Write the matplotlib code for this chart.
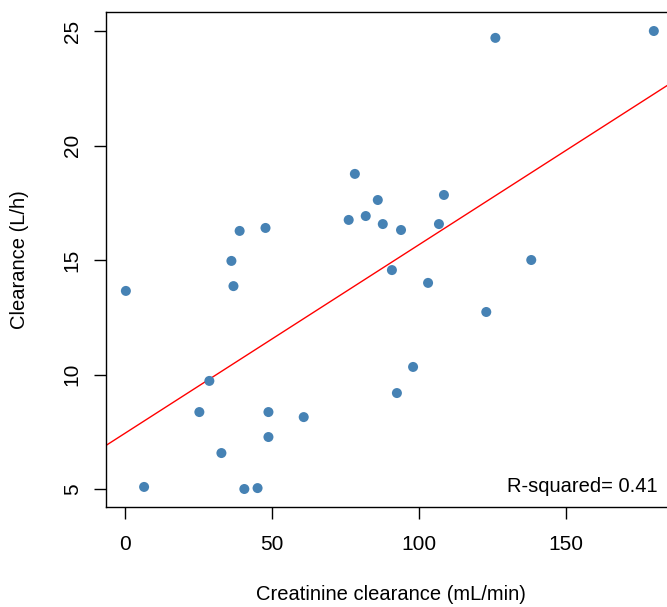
import numpy as np
import matplotlib
matplotlib.use("Agg")
import matplotlib.pyplot as plt

plt.rcParams['font.family'] = ['Liberation Sans', 'DejaVu Sans']

# creatinine clearance (mL/min) vs drug clearance (L/h)
crcl = [0.3, 6.5, 25.3, 28.7, 32.8, 36.2, 36.9, 39.0, 40.6, 45.1,
        47.8, 48.8, 48.8, 60.8, 76.1, 78.2, 81.9, 86.0, 87.7, 90.8,
        92.5, 93.9, 98.0, 103.1, 106.8, 108.5, 122.9, 126.0, 138.2, 179.9]
cl = [13.65, 5.09, 8.36, 9.72, 6.57, 14.96, 13.86, 16.27, 5.0, 5.04,
      16.4, 8.36, 7.27, 8.14, 16.75, 18.76, 16.92, 17.62, 16.57, 14.56,
      9.19, 16.31, 10.33, 14.0, 16.57, 17.84, 12.73, 24.7, 15.0, 25.0]
x_ticks = [0, 50, 100, 150]
y_ticks = [5, 10, 15, 20, 25]
r2_label = "R-squared= 0.41"

x = np.array(crcl)
y = np.array(cl)
slope, icpt = np.polyfit(x, y, 1)

fig = plt.figure(figsize=(6.67, 6.07), dpi=100)
ax = fig.add_axes([106 / 667, 100 / 607, 569 / 667, 495 / 607])

ax.scatter(x, y, s=52, color='steelblue', edgecolors='none', zorder=3)
xl = np.array([-10, 200])
ax.plot(xl, icpt + slope * xl, color='red', lw=1)

ax.set_xlim(-6.46, 187.1)
ax.set_ylim(4.214, 25.83)
ax.set_xticks(x_ticks)
ax.set_yticks(y_ticks)
ax.tick_params(labelsize=15, length=8.5, width=1, direction='out')
ax.tick_params(axis='x', pad=12)
ax.tick_params(axis='y', pad=9)
for lab in ax.get_yticklabels():
    lab.set_rotation(90)
    lab.set_va('center')
for sp in ax.spines.values():
    sp.set_linewidth(1)

ax.set_xlabel("Creatinine clearance (mL/min)", fontsize=14.5)
ax.set_ylabel("Clearance (L/h)", fontsize=14.5)
ax.xaxis.set_label_coords(0.5, (507 - 595) / 495)
ax.xaxis.label.set_va('center')
ax.yaxis.set_label_coords((20 - 106) / 569, 0.5)
ax.yaxis.label.set_va('center')
ax.text(181.3, 5.1, r2_label, ha='right', va='center', fontsize=14.5)

fig.savefig("out.png", dpi=100)
